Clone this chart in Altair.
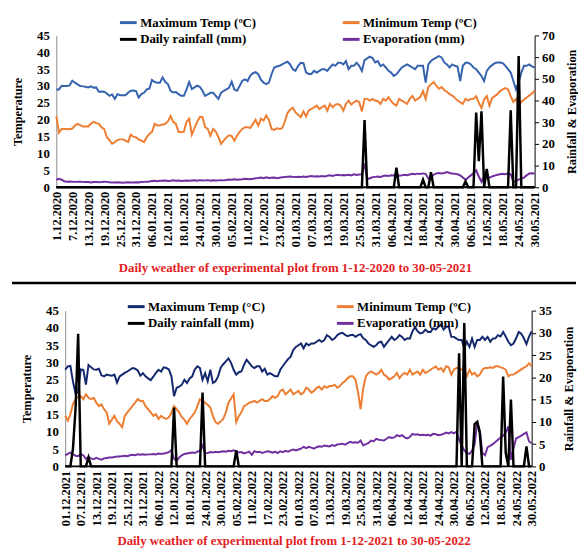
import altair as alt
import pandas as pd

FONT = "Liberation Serif"

# ---------------- Panel 1 : 1-12-2020 to 30-05-2021 ----------------
labels_1 = ["1.12.2020", "7.12.2020", "13.12.2020", "19.12.2020", "25.12.2020", "31.12.2020",
            "06.01.2021", "12.01.2021", "18.01.2021", "24.01.2021", "30.01.2021", "05.02.2021",
            "11.02.2021", "17.02.2021", "23.02.2021", "01.03.2021", "07.03.2021", "13.03.2021",
            "19.03.2021", "25.03.2021", "31.03.2021", "06.04.2021", "12.04.2021", "18.04.2021",
            "24.04.2021", "30.04.2021", "06.05.2021", "12.05.2021", "18.05.2021", "24.05.2021",
            "30.05.2021"]

max_1 = [29.0, 29.0, 30.1, 30.0, 30.0, 30.2, 31.6, 31.0, 30.5, 30.0,
         29.9, 29.8, 29.6, 29.9, 29.5, 29.6, 28.3, 28.4, 28.3, 27.8,
         27.1, 27.5, 26.2, 27.6, 27.3, 27.3, 27.3, 28.0, 28.6, 28.7,
         28.5, 26.6, 27.6, 28.0, 29.0, 29.2, 31.8, 31.2, 31.0, 31.0,
         32.6, 31.2, 30.6, 28.6, 28.1, 28.2, 27.6, 27.1, 27.1, 29.0,
         31.2, 29.1, 29.6, 30.1, 29.8, 28.6, 27.1, 27.5, 28.0, 28.0,
         27.1, 26.2, 28.0, 28.6, 29.0, 29.5, 31.3, 29.0, 28.6, 30.0,
         31.6, 32.0, 31.5, 33.1, 33.8, 34.1, 33.5, 31.9, 31.0, 30.6,
         31.0, 33.5, 35.5, 35.8, 36.0, 36.4, 36.9, 37.2, 36.4, 35.0,
         34.5, 36.0, 36.9, 36.8, 34.0, 33.6, 33.6, 34.5, 34.0, 34.5,
         35.0, 35.0, 34.5, 35.5, 36.4, 36.0, 36.9, 36.9, 36.4, 37.4,
         35.0, 36.0, 36.0, 36.9, 36.0, 34.5, 37.7, 38.2, 38.7, 38.3,
         37.0, 37.4, 35.9, 36.4, 35.5, 34.5, 34.0, 33.0, 33.5, 34.5,
         35.5, 36.0, 36.4, 36.0, 35.5, 35.0, 36.0, 36.0, 36.0, 31.0,
         36.4, 37.4, 38.0, 38.4, 38.9, 38.5, 37.0, 36.4, 35.5, 36.4,
         36.0, 35.8, 31.5, 36.0, 36.9, 36.9, 36.4, 35.5, 35.0, 34.0,
         33.0, 31.5, 34.5, 35.5, 36.2, 36.8, 37.0, 37.0, 36.8, 36.0,
         35.0, 34.0, 31.5, 29.0, 31.0, 34.0, 36.0, 36.0, 36.4, 35.8, 35.5]

min_1 = [21.1, 16.2, 17.3, 17.3, 17.3, 17.2, 17.4, 18.3, 18.8, 18.4,
         18.0, 18.0, 18.0, 18.8, 19.4, 19.0, 18.8, 17.8, 17.3, 14.9,
         14.0, 12.9, 13.4, 14.0, 14.2, 14.2, 13.8, 13.4, 15.6, 15.0,
         14.8, 14.2, 13.8, 13.4, 14.8, 15.8, 16.4, 18.8, 18.3, 18.4,
         18.6, 18.8, 19.5, 21.1, 19.4, 18.8, 16.4, 16.4, 16.5, 19.4,
         20.3, 15.6, 17.5, 19.4, 20.8, 20.8, 17.8, 17.3, 15.3, 17.3,
         16.5, 14.9, 12.9, 13.8, 14.8, 15.4, 15.2, 13.8, 15.3, 16.4,
         17.3, 17.8, 17.8, 17.6, 18.8, 20.0, 18.3, 20.3, 19.8, 21.3,
         20.0, 17.3, 17.0, 17.5, 17.3, 17.5, 19.5, 22.0, 23.0, 23.6,
         22.2, 21.5, 20.8, 22.5, 21.0, 22.8, 23.2, 23.7, 24.2, 23.2,
         23.8, 24.2, 22.7, 24.7, 23.7, 24.5, 24.7, 24.2, 22.7, 24.7,
         25.7, 24.5, 25.2, 25.7, 25.2, 22.5, 26.2, 26.2, 25.7, 26.2,
         25.7, 25.5, 24.7, 26.2, 25.7, 26.7, 25.5, 24.7, 24.2, 26.2,
         25.7, 25.2, 24.7, 26.2, 27.1, 25.7, 26.2, 26.8, 28.5, 26.2,
         29.7, 30.5, 31.2, 30.1, 29.2, 29.7, 28.8, 28.3, 27.6, 27.2,
         26.5, 25.7, 25.2, 24.7, 26.2, 25.7, 26.2, 26.2, 27.0, 25.0,
         23.5, 26.0, 27.0, 24.2, 26.5, 27.0, 27.6, 28.5, 29.0, 29.4,
         29.0, 27.0, 25.3, 26.2, 24.0, 25.3, 26.0, 26.6, 27.2, 27.8, 28.6]

rain_1 = [0, 0, 0, 0, 0, 0, 0, 0, 0, 0,
          0, 0, 0, 0, 0, 0, 0, 0, 0, 0,
          0, 0, 0, 0, 0, 0, 0, 0, 0, 0,
          0, 0, 0, 0, 0, 0, 0, 0, 0, 0,
          0, 0, 0, 0, 0, 0, 0, 0, 0, 0,
          0, 0, 0, 0, 0, 0, 0, 0, 0, 0,
          0, 0, 0, 0, 0, 0, 0, 0, 0, 0,
          0, 0, 0, 0, 0, 0, 0, 0, 0, 0,
          0, 0, 0, 0, 0, 0, 0, 0, 0, 0,
          0, 0, 0, 0, 0, 0, 0, 0, 0, 0,
          0, 0, 0, 0, 0, 0, 0, 0, 0, 0,
          0, 0, 0, 0, 0, 0, 31, 0, 0, 0,
          0, 0, 0, 0, 0, 0, 0, 0, 9, 0,
          0, 0, 0, 0, 0, 0, 0, 0, 3.5, 0,
          0, 7, 0, 0, 0, 0, 0, 0, 0, 0,
          0, 0, 0, 0, 2.7, 0, 0, 0, 34.5, 12,
          35, 0, 8.5, 0, 0, 0, 0, 0, 0, 0,
          0, 35.5, 0, 0, 60.5, 0, 0, 0, 0, 0, 0]

evap_1 = [3.5, 3.9, 3.5, 2.8, 2.6, 2.7, 2.6, 2.5, 2.6, 2.6,
          2.5, 2.4, 2.4, 2.2, 2.4, 2.5, 2.3, 2.4, 2.6, 2.5,
          2.3, 2.2, 2.2, 2.3, 2.2, 2.1, 2.2, 2.3, 2.2, 2.2,
          2.3, 2.2, 2.4, 2.5, 2.6, 2.7, 2.9, 3.0, 2.8, 3.0,
          3.0, 3.1, 2.9, 3.0, 3.2, 3.0, 3.1, 2.9, 3.0, 3.1,
          3.0, 3.1, 3.2, 3.0, 3.3, 3.1, 3.2, 3.3, 3.0, 3.2,
          3.1, 3.2, 3.3, 3.2, 3.4, 3.6, 3.5, 3.7, 3.5, 3.6,
          3.7, 3.9, 3.8, 3.7, 3.9, 4.2, 4.3, 4.5, 4.2, 4.6,
          4.3, 4.4, 4.5, 4.2, 4.4, 4.6, 4.7, 4.9, 5.0, 4.8,
          4.7, 4.9, 4.8, 5.0, 4.8, 5.0, 5.2, 5.0, 5.1, 5.0,
          5.2, 5.0, 5.3, 5.5, 5.2, 5.6, 5.8, 5.5, 5.7, 5.6,
          5.8, 5.5, 6.0, 5.7, 5.9, 6.0, 11.0, 3.6, 4.2, 4.6,
          4.8, 5.0, 4.8, 5.2, 5.4, 5.2, 5.5, 5.4, 6.5, 5.2,
          5.5, 5.8, 5.6, 5.9, 6.2, 6.0, 6.3, 6.1, 6.4, 6.2,
          4.0, 4.5, 5.8, 6.4, 6.6, 6.4, 6.6, 7.0, 6.6, 6.4,
          6.2, 6.0, 5.5, 4.5, 3.5, 4.5, 5.5, 6.5, 7.8, 5.0,
          2.6, 5.2, 4.8, 4.4, 5.0, 5.4, 5.8, 6.0, 6.2, 6.0,
          6.3, 6.0, 2.6, 3.0, 3.5, 4.0, 4.5, 5.5, 6.4, 6.5, 6.4]

# ---------------- Panel 2 : 1-12-2021 to 30-05-2022 ----------------
labels_2 = ["01.12.2021", "07.12.2021", "13.12.2021", "19.12.2021", "25.12.2021", "31.12.2021",
            "06.01.2022", "12.01.2022", "18.01.2022", "24.01.2022", "30.01.2022", "05.02.2022",
            "11.02.2022", "17.02.2022", "23.02.2022", "01.03.2022", "07.03.2022", "13.03.2022",
            "19.03.2022", "25.03.2022", "31.03.2022", "06.04.2022", "12.04.2022", "18.04.2022",
            "24.04.2022", "30.04.2022", "06.05.2022", "12.05.2022", "18.05.2022", "24.05.2022",
            "30.05.2022"]

max_2 = [27.9, 28.9, 29.0, 24.5, 21.0, 21.5, 28.0, 27.9, 23.6, 29.3,
         28.6, 28.0, 27.9, 28.2, 26.3, 26.0, 26.5, 26.3, 26.2, 26.5,
         24.2, 26.0, 26.5, 27.0, 27.4, 27.9, 28.4, 28.2, 27.7, 26.2,
         26.9, 26.0, 25.4, 24.9, 25.9, 27.0, 27.9, 27.4, 28.6, 28.4,
         28.0, 26.0, 20.3, 22.7, 23.0, 23.6, 25.0, 24.1, 25.4, 26.0,
         28.0, 28.9, 28.4, 25.0, 26.9, 24.6, 27.9, 24.1, 24.6, 26.0,
         28.5, 29.5, 30.3, 31.2, 29.9, 27.9, 26.5, 27.2, 27.4, 29.3,
         30.8, 29.9, 28.9, 28.4, 28.9, 28.9, 27.4, 28.2, 26.5, 26.9,
         26.5, 26.0, 26.0, 27.9, 29.0, 30.0, 31.0, 31.7, 33.6, 34.5,
         35.0, 35.5, 34.1, 35.5, 35.0, 35.5, 35.5, 36.0, 36.5, 36.0,
         36.5, 37.9, 37.4, 36.5, 37.0, 37.9, 38.4, 38.6, 38.0, 37.6,
         37.9, 38.0, 37.4, 37.9, 38.2, 37.0, 36.5, 35.5, 35.0, 34.5,
         35.0, 35.8, 36.0, 34.5, 35.5, 36.5, 37.4, 36.5, 37.0, 37.9,
         37.4, 36.5, 37.0, 36.9, 39.0, 40.2, 39.0, 38.4, 38.6, 39.5,
         38.8, 38.8, 39.9, 39.5, 40.3, 41.0, 39.5, 40.3, 40.3, 37.4,
         37.4, 36.9, 36.5, 36.5, 34.1, 36.0, 34.5, 36.9, 34.5, 36.5,
         36.5, 37.4, 36.5, 37.4, 36.0, 36.9, 37.0, 37.9, 37.5, 38.8,
         37.5, 36.0, 35.0, 35.5, 37.0, 38.8, 38.3, 37.0, 35.3, 37.5, 39.0]

min_2 = [14.6, 13.2, 15.0, 18.0, 19.4, 20.0, 20.3, 19.4, 20.8, 19.8,
         19.4, 19.8, 18.4, 17.4, 17.9, 16.5, 15.6, 12.3, 13.5, 14.6,
         13.0, 12.3, 11.3, 14.6, 15.6, 16.5, 17.5, 18.4, 19.4, 18.9,
         18.9, 17.4, 16.5, 15.6, 14.6, 15.1, 13.7, 14.6, 14.0, 13.7,
         14.2, 15.5, 17.4, 16.5, 15.6, 14.2, 13.5, 12.3, 13.7, 14.6,
         15.6, 17.4, 19.4, 18.9, 18.4, 17.8, 17.0, 14.6, 12.8, 12.3,
         13.0, 13.7, 15.6, 18.4, 19.6, 20.8, 12.8, 14.5, 15.6, 17.4,
         17.8, 18.4, 18.6, 18.9, 18.4, 18.9, 19.4, 18.9, 18.9, 19.4,
         20.3, 19.8, 20.3, 21.8, 22.2, 20.8, 21.5, 22.2, 20.8, 21.3,
         21.8, 20.8, 21.3, 22.7, 22.2, 21.3, 21.8, 22.7, 23.0, 22.2,
         23.2, 22.7, 23.2, 23.2, 23.6, 22.7, 23.2, 24.1, 24.6, 25.5,
         26.0, 26.0, 25.1, 21.4, 16.5, 22.5, 26.0, 27.0, 27.4, 27.0,
         26.5, 27.0, 27.9, 26.5, 26.0, 25.1, 25.5, 26.0, 27.0, 25.5,
         26.5, 27.0, 26.5, 27.9, 26.5, 27.0, 27.4, 26.5, 27.9, 27.0,
         27.4, 27.9, 28.4, 28.9, 27.9, 28.4, 27.4, 28.9, 28.6, 26.5,
         27.9, 28.4, 28.4, 27.9, 28.0, 26.0, 27.9, 26.5, 27.0, 26.0,
         26.5, 27.9, 28.4, 28.4, 28.6, 28.4, 28.9, 28.9, 28.6, 28.4,
         27.9, 26.0, 26.5, 26.5, 27.0, 27.5, 28.0, 28.5, 28.9, 29.8, 28.9]

rain_2 = [0, 0, 0, 4, 13, 29.8, 0, 0, 0, 2,
          0, 0, 0, 0, 0, 0, 0, 0, 0, 0,
          0, 0, 0, 0, 0, 0, 0, 0, 0, 0,
          0, 0, 0, 0, 0, 0, 0, 0, 0, 0,
          0, 0, 13.2, 0, 0, 0, 0, 0, 0, 0,
          0, 0, 0, 16.6, 0, 0, 0, 0, 0, 0,
          0, 0, 0, 0, 0, 0, 3.6, 0, 0, 0,
          0, 0, 0, 0, 0, 0, 0, 0, 0, 0,
          0, 0, 0, 0, 0, 0, 0, 0, 0, 0,
          0, 0, 0, 0, 0, 0, 0, 0, 0, 0,
          0, 0, 0, 0, 0, 0, 0, 0, 0, 0,
          0, 0, 0, 0, 0, 0, 0, 0, 0, 0,
          0, 0, 0, 0, 0, 0, 0, 0, 0, 0,
          0, 0, 0, 0, 0, 0, 0, 0, 0, 0,
          0, 0, 0, 0, 0, 0, 0, 0, 0, 0,
          0, 0, 25.4, 0, 32.2, 0, 0, 0, 9.5, 10,
          7.5, 0, 0, 0, 0, 0, 0, 0, 0, 20.2,
          3, 0, 15, 0, 0, 0, 0, 0, 4.5, 0, 0]

evap_2 = [2.5, 2.8, 3.1, 2.7, 2.4, 2.3, 2.7, 2.5, 1.7, 2.1,
          1.8, 1.6, 1.9, 1.7, 1.5, 1.8, 1.9, 2.0, 2.0, 2.1,
          2.2, 2.2, 2.3, 2.4, 2.3, 2.5, 2.6, 2.5, 2.7, 2.6,
          2.7, 2.6, 2.7, 2.7, 2.8, 2.7, 2.9, 2.8, 2.9, 3.0,
          3.2, 3.7, 1.7, 1.2, 2.0, 2.5, 2.8, 2.9, 3.0, 3.1,
          3.0, 3.3, 3.5, 4.7, 2.9, 3.0, 3.2, 3.1, 3.3, 3.2,
          3.3, 3.4, 3.3, 3.5, 3.4, 3.6, 3.4, 3.1, 3.2, 2.9,
          3.1, 3.3, 2.6, 3.4, 3.2, 3.3, 3.0, 3.2, 3.4, 3.3,
          3.1, 3.3, 3.0, 3.4, 3.2, 3.5, 3.3, 3.6, 3.8, 3.6,
          3.8, 4.0, 4.4, 4.1, 4.4, 4.2, 4.0, 4.3, 4.5, 4.4,
          4.7, 4.6, 4.5, 4.8, 4.6, 4.9, 5.0, 5.1, 4.9, 5.2,
          5.5, 5.3, 5.4, 5.3, 5.8, 4.7, 5.0, 5.2, 5.8, 5.6,
          6.2, 6.0, 5.9, 5.8, 6.2, 6.6, 6.4, 6.5, 7.0, 6.8,
          7.0, 6.5, 6.3, 6.6, 7.3, 7.1, 7.2, 7.0, 7.1, 7.0,
          7.1, 6.9, 7.3, 7.2, 7.0, 7.1, 7.3, 7.6, 7.4, 7.7,
          7.4, 7.8, 6.0, 4.7, 3.6, 3.0, 2.8, 3.5, 5.0, 9.9,
          8.0, 3.0, 2.5, 4.3, 4.6, 5.0, 5.5, 6.0, 6.5, 6.9,
          7.6, 9.0, 1.5, 4.0, 6.3, 6.6, 6.9, 7.3, 7.6, 5.6, 5.2]

for arr in (max_1, min_1, rain_1, evap_1, max_2, min_2, rain_2, evap_2):
    assert len(arr) == 181, len(arr)

days = list(range(181))


def panel(tmax, tmin, rain, evap, names, colors, labels, rmax, rstep,
          width, height, title, leg_x, leg_y, col_pad, title_offset,
          x_start=0, rule_y=None):
    # names/colors order: max, min, rain, evap
    temp_df = pd.DataFrame({"day": days + days, "value": tmax + tmin,
                            "series": [names[0]] * 181 + [names[1]] * 181})
    evap_df = pd.DataFrame({"day": days, "value": evap, "series": names[3]})
    rain_df = pd.DataFrame({"day": days, "value": rain, "series": names[2]})

    # legend is filled column by column: col 1 = max, rain ; col 2 = min, evap
    leg_domain = [names[0], names[2], names[1], names[3]]
    leg_range = [colors[0], colors[2], colors[1], colors[3]]

    label_js = "[" + ",".join("'%s'" % s for s in labels) + "][round(datum.value/6)]"
    x = alt.X("day:Q",
              scale=alt.Scale(domain=[0, 180], nice=False, zero=False,
                              range=[x_start, width]),
              axis=alt.Axis(values=list(range(0, 181, 6)), labelExpr=label_js,
                            labelAngle=270, labelOverlap=False, labelFlush=False,
                            title=None, grid=False, ticks=False, domain=False,
                            labelFont=FONT, labelFontSize=12.5, labelFontWeight="bold",
                            labelColor="black", labelPadding=4))
    color = alt.Color("series:N",
                      scale=alt.Scale(domain=leg_domain, range=leg_range),
                      legend=alt.Legend(title=None, orient="none", legendX=leg_x, legendY=leg_y,
                                        columns=2, columnPadding=col_pad, rowPadding=0,
                                        padding=0,
                                        symbolType="stroke", symbolSize=289,
                                        symbolStrokeWidth=3, labelOffset=2,
                                        labelFont=FONT, labelFontSize=13,
                                        labelFontWeight="bold", labelColor="black"))
    y_left = alt.Y("value:Q", scale=alt.Scale(domain=[0, 45], nice=False),
                   axis=alt.Axis(orient="left", values=list(range(0, 46, 5)),
                                 offset=-x_start,
                                 title="Temperature", grid=False, ticks=False,
                                 domainColor="#8c8c8c", domainWidth=1,
                                 labelFont=FONT, labelFontSize=13, labelFontWeight="bold",
                                 labelColor="black", labelPadding=7,
                                 titleFont=FONT, titleFontSize=12.5, titleFontWeight="bold",
                                 titleColor="black", titlePadding=12))
    y_right = alt.Y("value:Q", scale=alt.Scale(domain=[0, rmax], nice=False),
                    axis=alt.Axis(orient="right", values=list(range(0, rmax + 1, rstep)),
                                  title="Rainfall & Evaporation", titleAngle=270,
                                  titleBaseline="top",
                                  grid=False, ticks=True, tickSize=4, tickColor="black",
                                  domainColor="black", domainWidth=1,
                                  labelFont=FONT, labelFontSize=13, labelFontWeight="bold",
                                  labelColor="black", labelPadding=3,
                                  titleFont=FONT, titleFontSize=12.5, titleFontWeight="bold",
                                  titleColor="black", titlePadding=11))

    temps = alt.Chart(temp_df).mark_line(strokeWidth=2).encode(
        x=x, y=y_left, color=color, detail="series:N")
    ev = alt.Chart(evap_df).mark_line(strokeWidth=2).encode(x=x, y=y_right, color=color)
    rn = alt.Chart(rain_df).mark_line(strokeWidth=2.5).encode(x=x, y=y_right, color=color)
    # x-axis base line (black, 2px) between the two y axes
    base = alt.Chart(pd.DataFrame({"a": [0]})).mark_rule(
        color="black", strokeWidth=2).encode(
        x=alt.value(x_start), x2=alt.value(width), y=alt.value(height))
    layers = [temps, alt.layer(ev, rn), base]
    if rule_y is not None:
        rule = alt.Chart(pd.DataFrame({"a": [0]})).mark_rule(
            color="black", strokeWidth=2.5).encode(
            x=alt.value(-45), x2=alt.value(width + 45), y=alt.value(rule_y))
        layers.append(rule)
    return alt.layer(*layers).resolve_scale(y="independent").properties(
        width=width, height=height,
        title=alt.TitleParams(title, orient="bottom", anchor="middle", color="#E3211E",
                              font=FONT, fontSize=13, fontWeight="bold", offset=title_offset))


top = panel(max_1, min_1, rain_1, evap_1,
            ["Maximum Temp (ºC)", "Minimum Temp (ºC)", "Daily rainfall (mm)", "Evaporation (mm)"],
            ["#3563AE", "#ED7D31", "#000000", "#7030A0"],
            labels_1, 70, 10, 485, 154,
            "Daily weather of experimental plot from 1-12-2020 to 30-05-2021",
            63, -23, 81, 16)

bottom = panel(max_2, min_2, rain_2, evap_2,
               ["Maximum Temp (°C)", "Minimum Temp (ºC)", "Daily rainfall (mm)", "Evaporation (mm)"],
               ["#14286E", "#ED7D31", "#000000", "#7030A0"],
               labels_2, 35, 5, 482, 158,
               "Daily weather of experimental plot from 1-12-2021 to 30-05-2022",
               71, -14, 66, 9, x_start=9, rule_y=-28)

chart = alt.vconcat(top, bottom, spacing=5).resolve_scale(
    color="independent").resolve_legend(color="independent").properties(
    padding={"left": 2, "top": 1, "right": 0, "bottom": 0}
).configure_view(stroke=None).configure_legend(labelFont=FONT)

chart.save("out.html", embed_options={"renderer": "svg", "actions": False})
